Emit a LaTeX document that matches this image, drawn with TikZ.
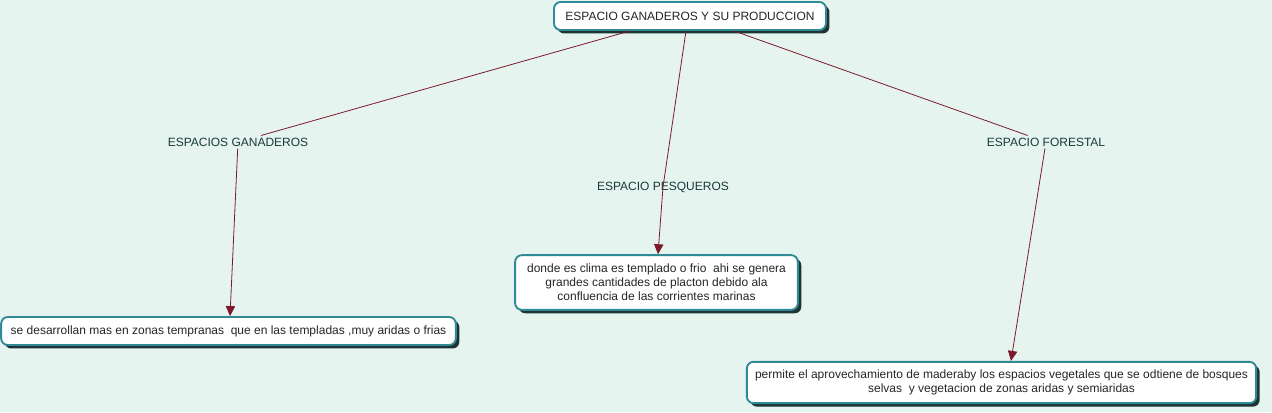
\documentclass[tikz,border=0pt]{standalone}
\usepackage{fontspec}
\setmainfont{Liberation Sans}
\usepackage{tikz}
\usetikzlibrary{shapes,arrows.meta,positioning,shadows}
\definecolor{mapbg}{HTML}{E6F4F0}
\definecolor{mapteal}{HTML}{2F8A96}
\definecolor{mapshadow}{HTML}{1C3434}
\definecolor{maptext}{HTML}{173A3A}
\definecolor{maplink}{HTML}{7A1A2C}
\tikzstyle{concept} = [draw=mapteal, line width=1.4pt, fill=white, rounded corners=5pt, align=center, font=\fontsize{9}{10.5}\selectfont, text=black!85, inner sep=0pt, drop shadow={shadow xshift=2.6pt, shadow yshift=-2.6pt, fill=mapshadow, opacity=1}]
\tikzstyle{linkword} = [font=\fontsize{9}{10.5}\selectfont, text=maptext, inner sep=1.5pt]
\tikzstyle{link} = [maplink, line width=0.6pt]
\tikzstyle{arrow} = [link, -{Triangle[length=7.5pt, width=7pt]}]

\begin{document}
\begin{tikzpicture}[x=0.75pt, y=-0.75pt]
\fill[mapbg] (0,0) rectangle (1272,412);
\useasboundingbox (0,0) rectangle (1272,412);

% concepts
\node[concept, minimum width=204pt, minimum height=21pt] (top) at (690,16) {ESPACIO GANADEROS Y SU PRODUCCION};
\node[concept, minimum width=341pt, minimum height=21pt] (gan box) at (228.5,331) {se desarrollan mas en zonas tempranas\ \ que en las templadas ,muy aridas o frias};
\node[concept, minimum width=212pt, minimum height=41pt] (pes box) at (656.5,282.5) {donde es clima es templado o frio\ \ ahi se genera\\grandes cantidades de placton debido ala\\confluencia de las corrientes marinas};
\node[concept, minimum width=382pt, minimum height=31pt] (for box) at (1001.5,382.5) {permite el aprovechamiento de maderaby los espacios vegetales que se odtiene de bosques\\selvas\ \ y vegetacion de zonas aridas y semiaridas};

% linking words
\node[linkword] (gan) at (238,142) {ESPACIOS GANADEROS};
\node[linkword] (pes) at (663,187) {ESPACIO PESQUEROS};
\node[linkword] (for) at (1046,142) {ESPACIO FORESTAL};

\draw[link] ([xshift=-45pt]top.south) -- (gan);
\draw[link] ([xshift=-3pt]top.south) -- (pes.center);
\draw[link] ([xshift=33pt]top.south) -- (for);
\draw[arrow] (gan) -- (gan box.north -| 230,0);
\draw[arrow] (pes.center) -- (pes box.north -| 658,0);
\draw[arrow] (for) -- (for box.north -| 1011,0);
\end{tikzpicture}
\end{document}
